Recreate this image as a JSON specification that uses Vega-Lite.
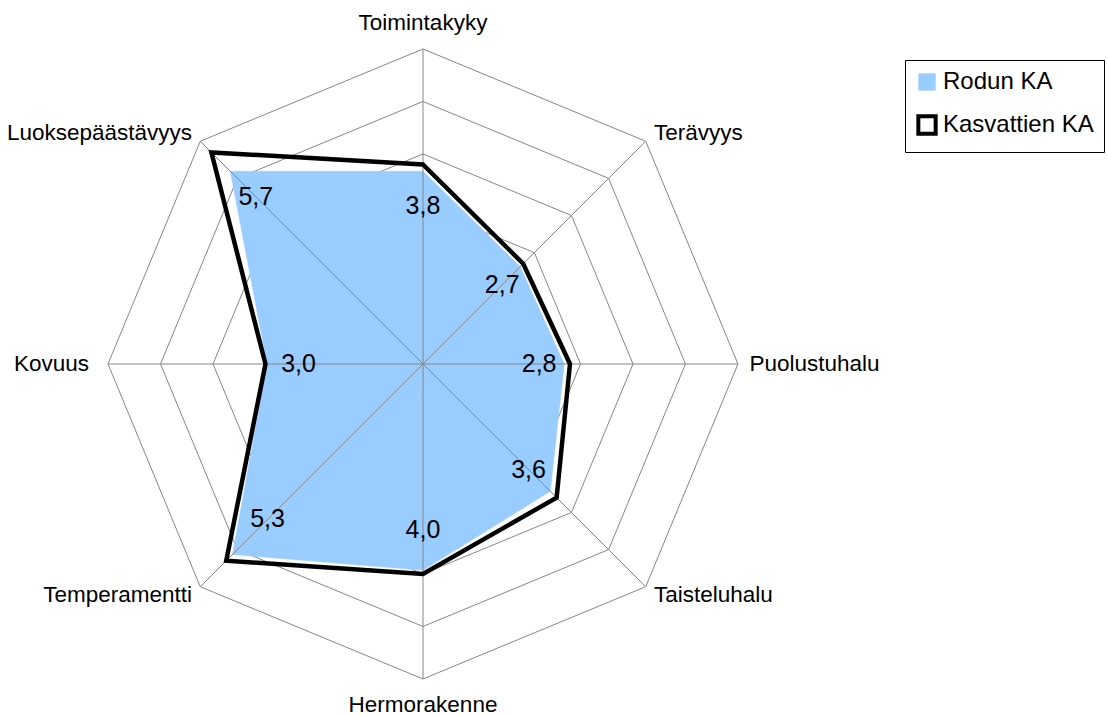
{
  "$schema": "https://vega.github.io/schema/vega-lite/v6.json",
  "width": 1108,
  "height": 716,
  "padding": 0,
  "autosize": {"type": "none"},
  "background": "white",
  "config": {"view": {"stroke": null}, "font": "Liberation Sans"},
  "datasets": {
    "scores": [
      {"trait": "Toimintakyky", "i": 0, "series": "Rodun KA", "value": 3.67},
      {"trait": "Terävyys", "i": 1, "series": "Rodun KA", "value": 2.62},
      {"trait": "Puolustuhalu", "i": 2, "series": "Rodun KA", "value": 2.69},
      {"trait": "Taisteluhalu", "i": 3, "series": "Rodun KA", "value": 3.43},
      {"trait": "Hermorakenne", "i": 4, "series": "Rodun KA", "value": 3.93},
      {"trait": "Temperamentti", "i": 5, "series": "Rodun KA", "value": 5.13},
      {"trait": "Kovuus", "i": 6, "series": "Rodun KA", "value": 2.97},
      {"trait": "Luoksepäästävyys", "i": 7, "series": "Rodun KA", "value": 5.19},
      {"trait": "Toimintakyky", "i": 0, "series": "Kasvattien KA", "value": 3.8},
      {"trait": "Terävyys", "i": 1, "series": "Kasvattien KA", "value": 2.7},
      {"trait": "Puolustuhalu", "i": 2, "series": "Kasvattien KA", "value": 2.8},
      {"trait": "Taisteluhalu", "i": 3, "series": "Kasvattien KA", "value": 3.6},
      {"trait": "Hermorakenne", "i": 4, "series": "Kasvattien KA", "value": 4.0},
      {"trait": "Temperamentti", "i": 5, "series": "Kasvattien KA", "value": 5.3},
      {"trait": "Kovuus", "i": 6, "series": "Kasvattien KA", "value": 3.0},
      {"trait": "Luoksepäästävyys", "i": 7, "series": "Kasvattien KA", "value": 5.7}
    ],
    "axes": [
      {"trait": "Toimintakyky", "i": 0, "levels": [1, 2, 3, 4, 5, 6]},
      {"trait": "Terävyys", "i": 1, "levels": [1, 2, 3, 4, 5, 6]},
      {"trait": "Puolustuhalu", "i": 2, "levels": [1, 2, 3, 4, 5, 6]},
      {"trait": "Taisteluhalu", "i": 3, "levels": [1, 2, 3, 4, 5, 6]},
      {"trait": "Hermorakenne", "i": 4, "levels": [1, 2, 3, 4, 5, 6]},
      {"trait": "Temperamentti", "i": 5, "levels": [1, 2, 3, 4, 5, 6]},
      {"trait": "Kovuus", "i": 6, "levels": [1, 2, 3, 4, 5, 6]},
      {"trait": "Luoksepäästävyys", "i": 7, "levels": [1, 2, 3, 4, 5, 6]}
    ]
  },
  "layer": [
    {
      "data": {"name": "axes"},
      "transform": [
        {"flatten": ["levels"], "as": ["level"]},
        {"calculate": "datum.i * PI / 4", "as": "a"},
        {"calculate": "datum.level * sin(datum.a)", "as": "x"},
        {"calculate": "datum.level * cos(datum.a)", "as": "y"}
      ],
      "mark": {"type": "line", "interpolate": "linear-closed", "stroke": "#868686", "strokeWidth": 1},
      "encoding": {
        "x": {"field": "x", "type": "quantitative", "scale": {"domain": [-8.057, 13.048], "nice": false, "zero": false}, "axis": null},
        "y": {"field": "y", "type": "quantitative", "scale": {"domain": [-6.705, 6.933], "nice": false, "zero": false}, "axis": null},
        "detail": {"field": "level", "type": "nominal"},
        "order": {"field": "i", "type": "quantitative"}
      }
    },
    {
      "data": {"name": "scores"},
      "transform": [
        {"filter": "datum.series === 'Rodun KA'"},
        {"calculate": "datum.i * PI / 4", "as": "a"},
        {"calculate": "datum.value * sin(datum.a)", "as": "x"},
        {"calculate": "datum.value * cos(datum.a)", "as": "y"}
      ],
      "mark": {"type": "line", "interpolate": "linear-closed", "fill": "#99CCFF", "stroke": "#99CCFF", "strokeWidth": 0.5},
      "encoding": {
        "x": {"field": "x", "type": "quantitative", "scale": {"domain": [-8.057, 13.048], "nice": false, "zero": false}, "axis": null},
        "y": {"field": "y", "type": "quantitative", "scale": {"domain": [-6.705, 6.933], "nice": false, "zero": false}, "axis": null},
        "order": {"field": "i", "type": "quantitative"}
      }
    },
    {
      "data": {"name": "axes"},
      "transform": [
        {"calculate": "datum.i * PI / 4", "as": "a"},
        {"calculate": "6 * sin(datum.a)", "as": "x"},
        {"calculate": "6 * cos(datum.a)", "as": "y"},
        {"calculate": "0", "as": "z"}
      ],
      "mark": {"type": "rule", "stroke": "#868686", "strokeWidth": 1},
      "encoding": {
        "x": {"field": "z", "type": "quantitative", "scale": {"domain": [-8.057, 13.048], "nice": false, "zero": false}, "axis": null},
        "y": {"field": "z", "type": "quantitative", "scale": {"domain": [-6.705, 6.933], "nice": false, "zero": false}, "axis": null},
        "x2": {"field": "x"},
        "y2": {"field": "y"}
      }
    },
    {
      "data": {"name": "scores"},
      "transform": [
        {"filter": "datum.series === 'Kasvattien KA'"},
        {"calculate": "datum.i * PI / 4", "as": "a"},
        {"calculate": "datum.value * sin(datum.a)", "as": "x"},
        {"calculate": "datum.value * cos(datum.a)", "as": "y"}
      ],
      "mark": {"type": "line", "interpolate": "linear-closed", "strokeWidth": 4.5, "strokeJoin": "miter"},
      "encoding": {
        "x": {"field": "x", "type": "quantitative", "scale": {"domain": [-8.057, 13.048], "nice": false, "zero": false}, "axis": null},
        "y": {"field": "y", "type": "quantitative", "scale": {"domain": [-6.705, 6.933], "nice": false, "zero": false}, "axis": null},
        "order": {"field": "i", "type": "quantitative"},
        "color": {
          "field": "series",
          "type": "nominal",
          "scale": {"domain": ["Rodun KA", "Kasvattien KA"], "range": ["#99CCFF", "#000000"]},
          "legend": {
            "title": null,
            "orient": "none",
            "legendX": 905,
            "legendY": 60,
            "padding": 10,
            "strokeColor": "#000000",
            "fillColor": "#ffffff",
            "symbolType": "square",
            "symbolSize": 300,
            "labelFontSize": 24,
            "labelFont": "Liberation Sans",
            "labelColor": "#000000",
            "labelOffset": 4,
            "rowPadding": 14,
            "encode": {
              "symbols": {
                "update": {
                  "fill": {"signal": "datum.value === 'Rodun KA' ? '#99CCFF' : '#ffffff'"},
                  "stroke": {"signal": "datum.value === 'Rodun KA' ? '#99CCFF' : '#000000'"},
                  "strokeWidth": {"signal": "datum.value === 'Rodun KA' ? 0 : 4"},
                  "opacity": {"value": 1}
                }
              }
            }
          }
        }
      }
    },
    {
      "data": {"name": "scores"},
      "transform": [
        {"filter": "datum.series === 'Kasvattien KA'"},
        {"calculate": "datum.i * PI / 4", "as": "a"},
        {"calculate": "datum.value * 0.79 * sin(datum.a)", "as": "x"},
        {"calculate": "datum.value * 0.79 * cos(datum.a)", "as": "y"},
        {"calculate": "replace(format(datum.value, '.1f'), '.', ',')", "as": "lbl"}
      ],
      "mark": {"type": "text", "fontSize": 25, "color": "#000000", "align": "center", "baseline": "middle", "font": "Liberation Sans"},
      "encoding": {
        "x": {"field": "x", "type": "quantitative", "scale": {"domain": [-8.057, 13.048], "nice": false, "zero": false}, "axis": null},
        "y": {"field": "y", "type": "quantitative", "scale": {"domain": [-6.705, 6.933], "nice": false, "zero": false}, "axis": null},
        "text": {"field": "lbl"}
      }
    },
    {
      "data": {"name": "axes"},
      "transform": [
        {"calculate": "datum.i * PI / 4", "as": "a"},
        {"calculate": "datum.i % 4 === 0 ? 6.5 : (datum.i === 6 ? 6.36 : 6.22)", "as": "r"},
        {"calculate": "datum.r * sin(datum.a)", "as": "x"},
        {"calculate": "datum.r * cos(datum.a)", "as": "y"},
        {"calculate": "datum.i % 4 === 0 ? 'center' : (datum.i < 4 ? 'left' : 'right')", "as": "al"}
      ],
      "mark": {"type": "text", "fontSize": 22.5, "color": "#000000", "baseline": "middle", "font": "Liberation Sans", "align": {"expr": "datum.al"}},
      "encoding": {
        "x": {"field": "x", "type": "quantitative", "scale": {"domain": [-8.057, 13.048], "nice": false, "zero": false}, "axis": null},
        "y": {"field": "y", "type": "quantitative", "scale": {"domain": [-6.705, 6.933], "nice": false, "zero": false}, "axis": null},
        "text": {"field": "trait"}
      }
    }
  ]
}
